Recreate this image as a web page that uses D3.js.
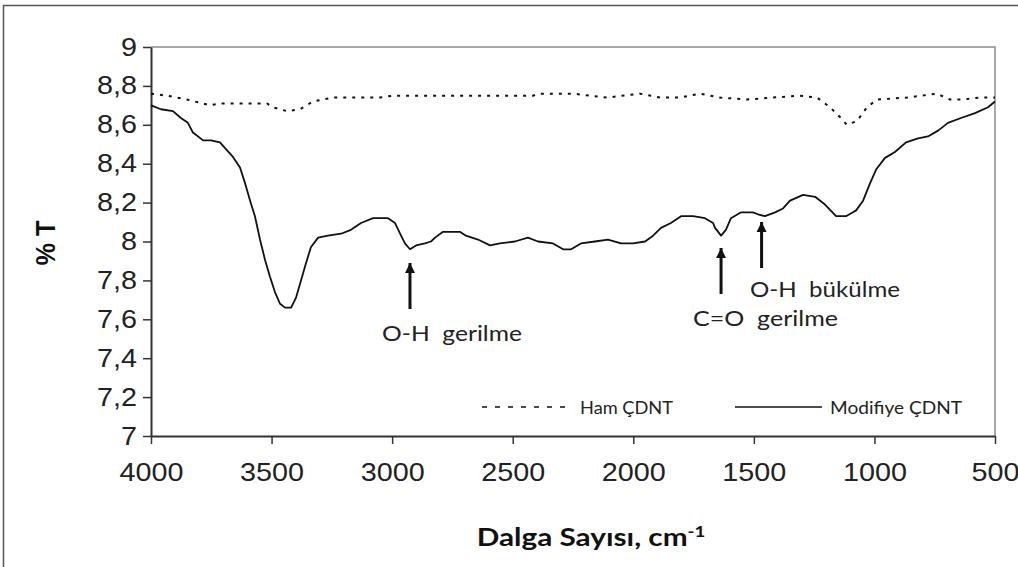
<!DOCTYPE html>
<html>
<head>
<meta charset="utf-8">
<script src="https://cdn.jsdelivr.net/npm/d3@7"></script>
<style>
  html, body { margin: 0; padding: 0; background: #fff; }
  svg { display: block; }
</style>
</head>
<body>
<svg id="chart" width="1018" height="567"></svg>
<script>
// FTIR spectra: raw vs. modified carbon nanotubes (% transmittance vs wavenumber)
const hamWavenumber = [4000, 3934, 3851, 3755, 3714, 3589, 3519, 3494, 3436, 3382, 3328, 3245, 3187, 3121, 3050, 2996, 2831, 2690, 2416, 2387, 2250, 2109, 1972, 1889, 1806, 1723, 1640, 1528, 1421, 1309, 1238, 1184, 1143, 1114, 1072, 1031, 989, 865, 741, 687, 633, 562, 500];
const hamTransmittance = [8.76, 8.75, 8.73, 8.70, 8.71, 8.71, 8.71, 8.69, 8.67, 8.68, 8.72, 8.74, 8.74, 8.74, 8.74, 8.75, 8.75, 8.75, 8.75, 8.76, 8.76, 8.74, 8.76, 8.74, 8.74, 8.76, 8.74, 8.73, 8.74, 8.75, 8.74, 8.69, 8.64, 8.60, 8.62, 8.69, 8.73, 8.74, 8.76, 8.73, 8.73, 8.74, 8.74];

const modWavenumber = [4000, 3959, 3909, 3876, 3847, 3826, 3784, 3751, 3714, 3693, 3660, 3631, 3610, 3589, 3569, 3548, 3527, 3507, 3486, 3465, 3444, 3419, 3399, 3378, 3357, 3337, 3307, 3266, 3212, 3171, 3129, 3079, 3017, 2988, 2967, 2947, 2926, 2901, 2864, 2839, 2822, 2789, 2719, 2694, 2644, 2594, 2553, 2491, 2437, 2395, 2333, 2291, 2258, 2217, 2159, 2105, 2051, 2001, 1951, 1918, 1885, 1844, 1802, 1752, 1703, 1669, 1661, 1636, 1616, 1595, 1553, 1504, 1483, 1454, 1412, 1379, 1350, 1296, 1246, 1205, 1159, 1118, 1089, 1076, 1047, 1018, 993, 956, 915, 869, 819, 778, 736, 695, 641, 583, 529, 500];
const modTransmittance = [8.70, 8.68, 8.67, 8.635, 8.61, 8.56, 8.52, 8.52, 8.51, 8.48, 8.435, 8.38, 8.30, 8.21, 8.13, 8.01, 7.905, 7.82, 7.74, 7.68, 7.66, 7.66, 7.71, 7.80, 7.89, 7.97, 8.02, 8.03, 8.04, 8.06, 8.095, 8.12, 8.12, 8.095, 8.04, 7.99, 7.96, 7.98, 7.99, 8.00, 8.02, 8.05, 8.05, 8.03, 8.01, 7.98, 7.99, 8.00, 8.02, 8.00, 7.99, 7.96, 7.96, 7.99, 8.00, 8.01, 7.99, 7.99, 8.00, 8.03, 8.07, 8.095, 8.13, 8.13, 8.12, 8.095, 8.07, 8.03, 8.06, 8.12, 8.15, 8.15, 8.14, 8.13, 8.15, 8.17, 8.21, 8.24, 8.23, 8.19, 8.13, 8.13, 8.15, 8.16, 8.21, 8.30, 8.37, 8.43, 8.46, 8.51, 8.53, 8.54, 8.57, 8.61, 8.635, 8.66, 8.69, 8.72];

const xTicks = [4000, 3500, 3000, 2500, 2000, 1500, 1000, 500];
const yTicks = [7, 7.2, 7.4, 7.6, 7.8, 8, 8.2, 8.4, 8.6, 8.8, 9];

const seriesNames = ["Ham ÇDNT", "Modifiye ÇDNT"];

// Band assignments: wavenumber of the arrowed band and its caption
const bandWavenumber = [2926, 1636, 1468];
const bandLabel = ["O-H  gerilme", "C=O  gerilme", "O-H  bükülme"];

const svg = d3.select("#chart");

const plot = { left: 151, right: 995, top: 47, bottom: 436 };

const x = d3.scaleLinear().domain([4000, 500]).range([plot.left, plot.right]);
const y = d3.scaleLinear().domain([7, 9]).range([plot.bottom, plot.top]);

// widen a text element horizontally by a factor, keeping its anchor
function stretch(sel, factor) {
  sel.each(function () {
    const w = this.getComputedTextLength();
    d3.select(this).attr("textLength", w * factor).attr("lengthAdjust", "spacingAndGlyphs");
  });
}

// outer frame
svg.append("rect")
  .attr("x", 3.5).attr("y", 5.5)
  .attr("width", 1100).attr("height", 700)
  .attr("fill", "none").attr("stroke", "#555").attr("stroke-width", 1.5);

// top and right border of the plot area
svg.append("path")
  .attr("d", `M${plot.left},${plot.top}H${plot.right}V${plot.bottom}`)
  .attr("fill", "none").attr("stroke", "#8c8c8c").attr("stroke-width", 1.5);

const commaFmt = v => d3.format("~g")(v).replace(".", ",");

const tickFont = "'Liberation Sans', Arial, sans-serif";
const textFont = "Lato, 'Open Sans', sans-serif";

const yAxis = svg.append("g")
  .attr("transform", `translate(${plot.left},0)`)
  .call(d3.axisLeft(y).tickValues(yTicks).tickSize(8).tickSizeOuter(0).tickPadding(6).tickFormat(commaFmt));

const xAxis = svg.append("g")
  .attr("transform", `translate(0,${plot.bottom})`)
  .call(d3.axisBottom(x).tickValues(xTicks).tickSize(8).tickSizeOuter(0).tickPadding(19).tickFormat(d3.format("d")));

[yAxis, xAxis].forEach(g => {
  g.select(".domain").attr("stroke", "#333").attr("stroke-width", 2);
  g.selectAll(".tick line").attr("stroke", "#333").attr("stroke-width", 1.5);
  g.selectAll(".tick text")
    .attr("fill", "#222")
    .style("font-family", tickFont)
    .style("font-size", "25px")
    .call(stretch, 1.15);
});

// spectra
const line = d3.line().x(d => x(d[0])).y(d => y(d[1]));

const hamData = d3.zip(hamWavenumber, hamTransmittance);
const modData = d3.zip(modWavenumber, modTransmittance);

svg.append("path")
  .datum(hamData)
  .attr("d", line)
  .attr("fill", "none").attr("stroke", "#111")
  .attr("stroke-width", 2).attr("stroke-dasharray", "3,6");

svg.append("path")
  .datum(modData)
  .attr("d", line)
  .attr("fill", "none").attr("stroke", "#111")
  .attr("stroke-width", 1.8).attr("stroke-linejoin", "round");

// legend
const legend = svg.append("g").style("font-family", textFont).style("font-size", "17px");
legend.append("line").attr("x1", 482).attr("x2", 568).attr("y1", 407).attr("y2", 407)
  .attr("stroke", "#111").attr("stroke-width", 1.5).attr("stroke-dasharray", "5,8");
legend.append("text").attr("x", 580).attr("y", 414).attr("fill", "#222")
  .attr("textLength", 93).attr("lengthAdjust", "spacingAndGlyphs").text(seriesNames[0]);
legend.append("line").attr("x1", 735).attr("x2", 822).attr("y1", 407).attr("y2", 407)
  .attr("stroke", "#111").attr("stroke-width", 1.5);
legend.append("text").attr("x", 830).attr("y", 414).attr("fill", "#222")
  .attr("textLength", 132).attr("lengthAdjust", "spacingAndGlyphs").text(seriesNames[1]);

// arrows pointing at the bands
const defs = svg.append("defs");
defs.append("marker")
  .attr("id", "head").attr("viewBox", "0 0 10 10")
  .attr("refX", 10).attr("refY", 5)
  .attr("markerWidth", 3.4).attr("markerHeight", 3.6)
  .attr("markerUnits", "strokeWidth")
  .attr("orient", "auto")
  .append("path").attr("d", "M0,0L10,5L0,10Z").attr("fill", "#111");

const arrowSpec = [
  { tip: 263, tail: 309 },
  { tip: 248, tail: 294 },
  { tip: 222, tail: 268 }
];
arrowSpec.forEach((a, i) => {
  svg.append("line")
    .attr("x1", x(bandWavenumber[i])).attr("x2", x(bandWavenumber[i]))
    .attr("y1", a.tail).attr("y2", a.tip)
    .attr("stroke", "#111").attr("stroke-width", 3)
    .attr("marker-end", "url(#head)");
});

// band captions
const captions = [
  { x: 382, y: 341, w: 140, text: bandLabel[0] },
  { x: 693, y: 326, w: 145, text: bandLabel[1] },
  { x: 750, y: 297, w: 150, text: bandLabel[2] }
];
captions.forEach(c => {
  svg.append("text")
    .attr("x", c.x).attr("y", c.y)
    .attr("fill", "#222")
    .attr("xml:space", "preserve")
    .style("white-space", "pre")
    .style("font-family", textFont)
    .style("font-size", "21px")
    .attr("textLength", c.w).attr("lengthAdjust", "spacingAndGlyphs")
    .text(c.text);
});

// axis titles
const xTitle = svg.append("text")
  .attr("transform", "translate(591,546) scale(1.24,1)")
  .attr("text-anchor", "middle")
  .attr("fill", "#111")
  .style("font-family", textFont)
  .style("font-size", "24px")
  .style("font-weight", "bold");
xTitle.append("tspan").text("Dalga Sayısı, cm");
xTitle.append("tspan").attr("dy", -9).style("font-size", "15px").text("-1");

svg.append("text")
  .attr("transform", "translate(55,243) rotate(-90)")
  .attr("text-anchor", "middle")
  .attr("fill", "#111")
  .style("font-family", tickFont)
  .style("font-size", "28px")
  .style("font-weight", "bold")
  .attr("textLength", 45).attr("lengthAdjust", "spacingAndGlyphs")
  .text("% T");
</script>
</body>
</html>
